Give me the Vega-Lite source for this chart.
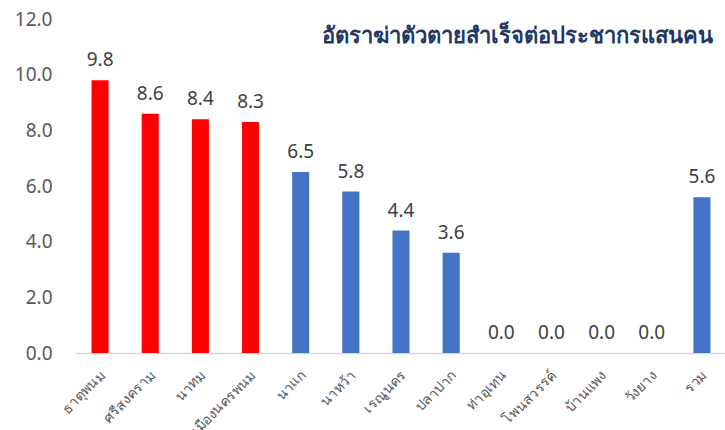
{
  "$schema": "https://vega.github.io/schema/vega-lite/v6.json",
  "autosize": "none",
  "width": 652,
  "height": 334,
  "padding": {"left": 75, "top": 19, "right": 0, "bottom": 77},
  "background": "white",
  "title": {
    "text": "อัตราฆ่าตัวตายสำเร็จต่อประชากรแสนคน",
    "anchor": "end",
    "orient": "top",
    "offset": -38,
    "dx": -14,
    "fontSize": 22,
    "fontWeight": "bold",
    "color": "#1F3864",
    "font": "Noto Sans"
  },
  "config": {"view": {"stroke": null}, "font": "Noto Sans"},
  "data": {
    "values": [
      {"district": "ธาตุพนม", "rate": 9.8, "group": "high"},
      {"district": "ศรีสงคราม", "rate": 8.6, "group": "high"},
      {"district": "นาทม", "rate": 8.4, "group": "high"},
      {"district": "เมืองนครพนม", "rate": 8.3, "group": "high"},
      {"district": "นาแก", "rate": 6.5, "group": "low"},
      {"district": "นาหว้า", "rate": 5.8, "group": "low"},
      {"district": "เรณูนคร", "rate": 4.4, "group": "low"},
      {"district": "ปลาปาก", "rate": 3.6, "group": "low"},
      {"district": "ท่าอุเทน", "rate": 0.0, "group": "low"},
      {"district": "โพนสวรรค์", "rate": 0.0, "group": "low"},
      {"district": "บ้านแพง", "rate": 0.0, "group": "low"},
      {"district": "วังยาง", "rate": 0.0, "group": "low"},
      {"district": "รวม", "rate": 5.6, "group": "low"}
    ]
  },
  "encoding": {
    "x": {
      "field": "district",
      "type": "nominal",
      "sort": null,
      "scale": {"paddingInner": 0.66, "paddingOuter": 0.33},
      "axis": {
        "title": null,
        "labelAngle": -45,
        "labelAlign": "right",
        "labelBaseline": "middle",
        "labelFontSize": 14,
        "labelColor": "#595959",
        "labelPadding": 20,
        "labelOffset": 3,
        "ticks": false,
        "domainColor": "#D9D9D9",
        "domainWidth": 1.5
      }
    },
    "y": {
      "field": "rate",
      "type": "quantitative",
      "scale": {"domain": [0, 12]},
      "axis": {
        "title": null,
        "values": [0, 2, 4, 6, 8, 10, 12],
        "format": ".1f",
        "grid": false,
        "domain": false,
        "ticks": false,
        "labelFontSize": 19,
        "labelColor": "#595959",
        "labelPadding": 23
      }
    }
  },
  "layer": [
    {
      "mark": {"type": "bar"},
      "encoding": {
        "color": {
          "field": "group",
          "type": "nominal",
          "scale": {"domain": ["high", "low"], "range": ["#FF0000", "#4472C4"]},
          "legend": null
        }
      }
    },
    {
      "mark": {"type": "text", "dy": -20, "fontSize": 19, "color": "#404040"},
      "encoding": {
        "text": {"field": "rate", "type": "quantitative", "format": ".1f"}
      }
    }
  ]
}
